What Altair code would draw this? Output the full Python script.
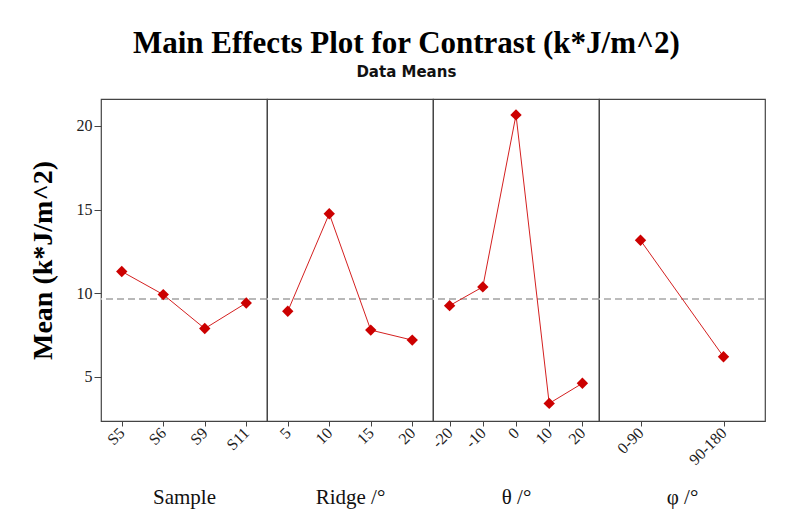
import altair as alt
import pandas as pd

# ---- data ----
sample_levels = ["S5", "S6", "S9", "S11"]
sample_means = [11.3, 9.92, 7.89, 9.42]

ridge_levels = ["5", "10", "15", "20"]
ridge_means = [8.92, 14.75, 7.80, 7.20]

theta_levels = ["-20", "-10", "0", "10", "20"]
theta_means = [9.26, 10.38, 20.65, 3.42, 4.62]

phi_levels = ["0-90", "90-180"]
phi_means = [13.16, 6.21]

grand_mean = 9.66

factor_titles = ["Sample", "Ridge /°", "θ /°", "φ /°"]
y_ticks = [5, 10, 15, 20]

SERIF = "Liberation Serif"
RED = "#cc0000"
LINE = "#d42020"
Y_DOMAIN = [2.37, 21.6]
PANEL_W = 166
PANEL_H = 322


def panel(levels, means, title, first=False):
    df = pd.DataFrame({"level": levels, "mean": means, "gm": [grand_mean] * len(levels)})
    xenc = alt.X(
        "level:N",
        sort=levels,
        title=title,
        scale=alt.Scale(type="point", padding=0.5),
        axis=alt.Axis(
            domain=False,
            ticks=True,
            tickSize=5,
            tickColor="#444444",
            labelAngle=315,
            labelAlign="right",
            labelBaseline="middle",
            labelFont=SERIF,
            labelFontSize=16,
            labelColor="#222222",
            labelPadding=4,
            titleFont=SERIF,
            titleFontSize=21,
            titleFontWeight="normal",
            titleColor="#111111",
            titleBaseline="alphabetic",
            titleY=82,
        ),
    )
    if first:
        yaxis = alt.Axis(
            values=y_ticks,
            grid=False,
            domain=False,
            tickSize=7,
            tickColor="#444444",
            labelFont=SERIF,
            labelFontSize=16,
            labelColor="#222222",
            labelPadding=2,
            title="Mean (k*J/m^2)",
            titleFont=SERIF,
            titleFontSize=28,
            titleFontWeight="bold",
            titleColor="#000000",
            titlePadding=19,
        )
    else:
        yaxis = None
    yscale = alt.Scale(domain=Y_DOMAIN, nice=False, zero=False)
    base = alt.Chart(df)
    ref = base.mark_rule(color="#b8b8b8", strokeDash=[7, 4], strokeWidth=1.5).encode(
        y=alt.Y("gm:Q", scale=yscale, axis=yaxis)
    )
    line = base.mark_line(color=LINE, strokeWidth=1).encode(
        x=xenc, y=alt.Y("mean:Q", scale=yscale, axis=yaxis)
    )
    pts = base.mark_point(
        shape="diamond", filled=True, size=130, color=RED, opacity=1
    ).encode(x=xenc, y=alt.Y("mean:Q", scale=yscale, axis=yaxis))
    return alt.layer(ref, line, pts).properties(width=PANEL_W, height=PANEL_H)


chart = (
    alt.hconcat(
        panel(sample_levels, sample_means, factor_titles[0], first=True),
        panel(ridge_levels, ridge_means, factor_titles[1]),
        panel(theta_levels, theta_means, factor_titles[2]),
        panel(phi_levels, phi_means, factor_titles[3]),
        spacing=0,
        bounds="flush",
    )
    .resolve_scale(x="independent", y="independent")
    .properties(
        title=alt.TitleParams(
            text="Main Effects Plot for Contrast (k*J/m^2)",
            subtitle="Data Means",
            font=SERIF,
            fontSize=31,
            fontWeight="bold",
            color="#000000",
            subtitleFont="DejaVu Sans",
            subtitleFontSize=15,
            subtitleFontWeight="bold",
            subtitleColor="#111111",
            subtitlePadding=5,
            anchor="middle",
            frame="bounds",
            offset=17,
            dx=9,
        ),
        padding={"left": 20, "top": 20, "right": 5, "bottom": 5},
    )
    .configure_view(stroke="#444444", strokeWidth=1.2)
)

chart.save("out.html", embed_options={"renderer": "svg", "actions": False})
